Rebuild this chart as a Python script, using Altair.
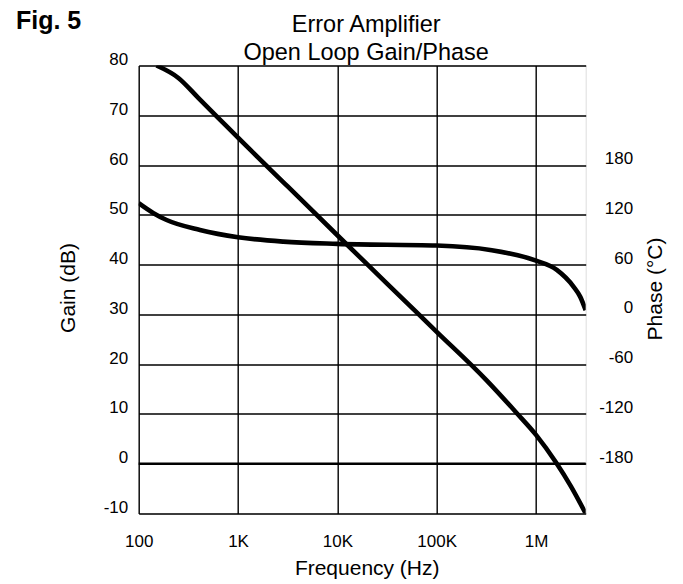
import altair as alt
import pandas as pd

# ---- data ----
gain_freq_hz = [151, 251, 398, 631, 1000, 3162, 10000, 31623, 100000, 316228,
                630957, 1000000, 1584893, 2238721, 3162278]
gain_db = [80.0, 77.5, 73.5, 69.5, 65.5, 55.7, 45.9, 36.2, 26.5, 16.8,
           10.3, 5.8, 0.3, -4.5, -10.0]

phase_freq_hz = [100, 141, 191, 414, 1000, 2858, 10000, 100000, 345000,
                 1000000, 1618000, 2382000, 2780000, 3162278]
phase_deg = [134, 122, 113.8, 101.8, 93, 87.7, 85, 83, 77.7,
             64.8, 53.6, 33.5, 21.4, 5]

x_tick_values = [100, 1000, 10000, 100000, 1000000]
x_tick_labels = ["100", "1K", "10K", "100K", "1M"]
gain_ticks = [-10, 0, 10, 20, 30, 40, 50, 60, 70, 80]
phase_ticks = [-180, -120, -60, 0, 60, 120, 180]
zero_line = [0]

FONT = "Liberation Sans"
W, H = 447, 448

df_gain = pd.DataFrame({"freq": gain_freq_hz, "gain": gain_db})
df_phase = pd.DataFrame({"freq": phase_freq_hz, "phase": phase_deg})
df_zero = pd.DataFrame({"gain": zero_line})
df_fig = pd.DataFrame({"label": ["Fig. 5"]})

label_expr = " : ".join(
    f"datum.value == {v} ? '{t}'" for v, t in zip(x_tick_values, x_tick_labels)
) + " : ''"
plain_num = "'' + datum.value"

xscale = alt.Scale(type="log", domain=[100, 3162278], nice=False)
gain_scale = alt.Scale(domain=[-10, 80], nice=False, zero=False)
phase_scale = alt.Scale(domain=[-240, 300], nice=False, zero=False)

x_axis = alt.Axis(
    values=x_tick_values, labelExpr=label_expr, grid=True, gridColor="black",
    gridWidth=1.4, gridOpacity=1, domain=False, ticks=False, tickSize=0,
    labelFontSize=17, labelFont=FONT, labelColor="black", labelPadding=33,
    labelBaseline="alphabetic", labelAlign="center",
    title="Frequency (Hz)", titleFont=FONT, titleFontSize=21,
    titleFontWeight="normal", titleColor="black",
    titleX=228, titleY=61, titleBaseline="alphabetic", titleAlign="center",
)

gain_axis = alt.Axis(
    values=gain_ticks, labelExpr=plain_num, orient="left", grid=True,
    gridColor="black", gridWidth=1.4, gridOpacity=1, domain=False,
    ticks=False, tickSize=0,
    labelFontSize=17, labelFont=FONT, labelColor="black", labelPadding=11,
    labelBaseline="alphabetic", labelAlign="right", labelOffset=-1,
    title="Gain (dB)", titleFont=FONT, titleFontSize=21,
    titleFontWeight="normal", titleColor="black",
    titleX=-70, titleY=222, titleAngle=270, titleBaseline="middle",
    titleAlign="center",
)

phase_axis = alt.Axis(
    values=phase_ticks, labelExpr=plain_num, orient="right", grid=False,
    domain=False, ticks=False, tickSize=0,
    labelFontSize=17, labelFont=FONT, labelColor="black", labelPadding=47,
    labelBaseline="alphabetic", labelAlign="right", labelOffset=-1.5,
    title="Phase (°C)", titleFont=FONT, titleFontSize=21,
    titleFontWeight="normal", titleColor="black",
    titleX=70, titleY=223, titleAngle=270, titleBaseline="middle",
    titleAlign="center",
)

gain = alt.Chart(df_gain).mark_line(
    color="black", strokeWidth=4.6, interpolate="monotone", clip=True
).encode(
    x=alt.X("freq:Q", scale=xscale, axis=x_axis),
    y=alt.Y("gain:Q", scale=gain_scale, axis=gain_axis),
)

zero = alt.Chart(df_zero).mark_rule(color="black", strokeWidth=2.6).encode(
    y=alt.Y("gain:Q", scale=gain_scale, axis=None),
)

phase = alt.Chart(df_phase).mark_line(
    color="black", strokeWidth=4.6, interpolate="monotone", clip=True
).encode(
    x=alt.X("freq:Q", scale=xscale, axis=x_axis),
    y=alt.Y("phase:Q", scale=phase_scale, axis=phase_axis),
)

fig = alt.Chart(df_fig).mark_text(
    align="left", baseline="alphabetic", fontSize=25, fontWeight="bold",
    font=FONT, color="black",
).encode(
    text="label:N", x=alt.value(-122.7), y=alt.value(-37),
)

chart = alt.layer(zero, gain, phase, fig).resolve_scale(
    y="independent"
).properties(
    width=W, height=H,
    autosize=alt.AutoSizeParams(type="none"),
    padding={"left": 130.7, "top": 57.5, "right": 88, "bottom": 66},
    title=alt.TitleParams(
        text=["Error Amplifier", "Open Loop Gain/Phase"], font=FONT,
        fontSize=23.5, fontWeight="normal", color="black", anchor="middle",
        frame="group", lineHeight=27.6, offset=0, dx=4, dy=75,
        baseline="alphabetic",
    ),
).configure_view(stroke="black", strokeWidth=2.6).configure(background="white")

chart.save("out.html", embed_options={"renderer": "svg", "actions": False})
